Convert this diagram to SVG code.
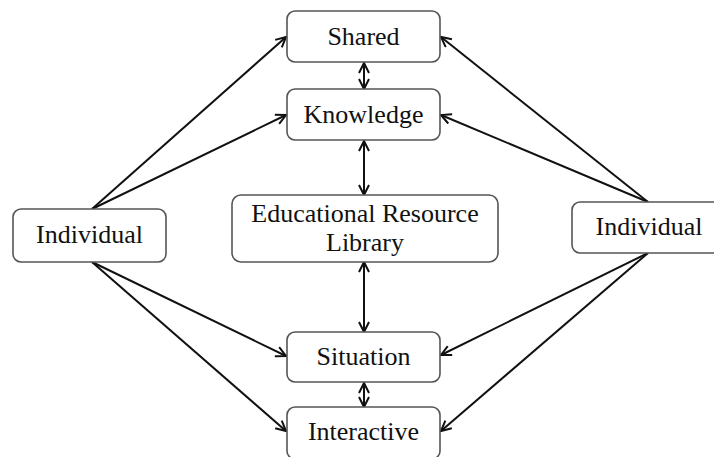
<svg xmlns="http://www.w3.org/2000/svg" width="714" height="457" viewBox="0 0 714 457">
  <style>
    .box { fill: #ffffff; stroke: #555555; stroke-width: 1.6; }
    .lbl { font-family: "Liberation Serif", "Times New Roman", serif; font-size: 26px; fill: #111111; text-anchor: middle; }
    .edge { fill: none; stroke: #111111; stroke-width: 2; }
  </style>
  <defs>
    <marker id="head" viewBox="0 0 12 12" refX="11" refY="6" markerWidth="12" markerHeight="12" markerUnits="userSpaceOnUse" orient="auto-start-reverse">
      <path d="M1,1 L11,6 L1,11" fill="none" stroke="#111111" stroke-width="2"/>
    </marker>
  </defs>
  <rect width="714" height="457" fill="#ffffff"/>

  <g id="connectors">
    <!-- left Individual to upper boxes -->
    <line class="edge" x1="92" y1="209" x2="286" y2="37" marker-end="url(#head)"/>
    <line class="edge" x1="92" y1="209" x2="286" y2="115" marker-end="url(#head)"/>
    <!-- left Individual to lower boxes -->
    <line class="edge" x1="92" y1="262" x2="286" y2="356" marker-end="url(#head)"/>
    <line class="edge" x1="92" y1="262" x2="286" y2="431" marker-end="url(#head)"/>
    <!-- right Individual to upper boxes -->
    <line class="edge" x1="648" y1="202" x2="441" y2="37" marker-end="url(#head)"/>
    <line class="edge" x1="648" y1="202" x2="441" y2="115" marker-end="url(#head)"/>
    <!-- right Individual to lower boxes -->
    <line class="edge" x1="648" y1="253" x2="441" y2="355" marker-end="url(#head)"/>
    <line class="edge" x1="648" y1="253" x2="441" y2="431" marker-end="url(#head)"/>
    <!-- vertical two-way links -->
    <line class="edge" x1="364" y1="63" x2="364" y2="89" marker-start="url(#head)" marker-end="url(#head)"/>
    <line class="edge" x1="364" y1="141" x2="364" y2="195" marker-start="url(#head)" marker-end="url(#head)"/>
    <line class="edge" x1="364" y1="262" x2="364" y2="332" marker-start="url(#head)" marker-end="url(#head)"/>
    <line class="edge" x1="364" y1="383" x2="364" y2="407" marker-start="url(#head)" marker-end="url(#head)"/>
  </g>

  <g id="shared">
    <rect class="box" x="287" y="11" width="153" height="51" rx="8"/>
    <text class="lbl" x="363.5" y="45">Shared</text>
  </g>
  <g id="knowledge">
    <rect class="box" x="287" y="89" width="153" height="51" rx="8"/>
    <text class="lbl" x="363.5" y="123">Knowledge</text>
  </g>
  <g id="library">
    <rect class="box" x="232" y="195" width="266" height="67" rx="9"/>
    <text class="lbl" x="365" y="222">Educational Resource</text>
    <text class="lbl" x="365" y="251">Library</text>
  </g>
  <g id="situation">
    <rect class="box" x="287" y="332" width="153" height="50" rx="8"/>
    <text class="lbl" x="363.5" y="365">Situation</text>
  </g>
  <g id="interactive">
    <rect class="box" x="287" y="407" width="153" height="52" rx="8"/>
    <text class="lbl" x="363.5" y="440">Interactive</text>
  </g>
  <g id="individual-left">
    <rect class="box" x="13" y="209" width="153" height="53" rx="8"/>
    <text class="lbl" x="89.5" y="243">Individual</text>
  </g>
  <g id="individual-right">
    <rect class="box" x="572" y="202" width="154" height="51" rx="8"/>
    <text class="lbl" x="649" y="235">Individual</text>
  </g>
</svg>
